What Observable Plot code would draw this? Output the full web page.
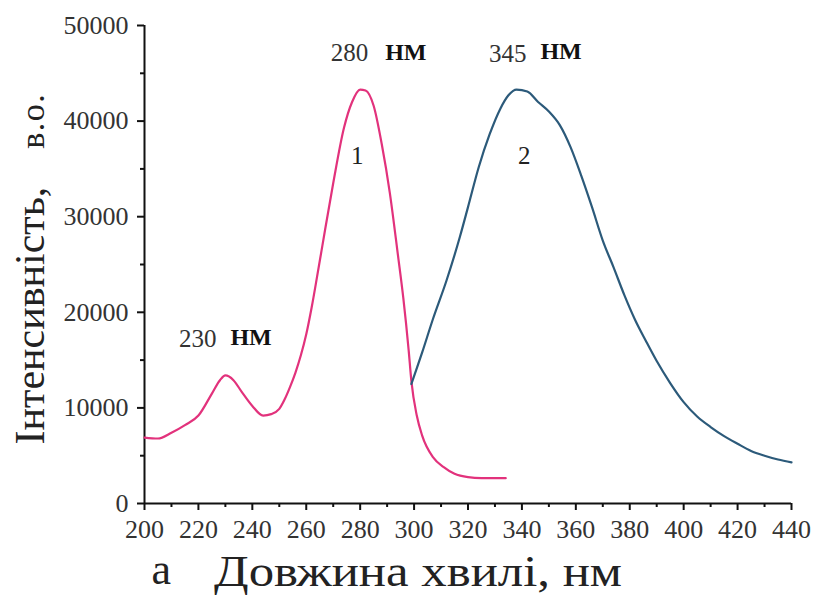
<!DOCTYPE html>
<html>
<head>
<meta charset="utf-8">
<script src="https://cdn.jsdelivr.net/npm/d3@7"></script>
<script src="https://cdn.jsdelivr.net/npm/@observablehq/plot@0.6"></script>
<style>
  html, body { margin: 0; padding: 0; background: #fff; }
  #chart svg { display: block; }
</style>
</head>
<body>
<div id="chart"></div>
<script>
// Curve 1 (excitation)
const wl1 = [200, 205, 210, 215, 220, 225, 228, 230, 233, 236, 240, 244, 247, 250, 252, 254, 256, 258, 260, 262, 264, 266, 270, 274, 277, 280, 282, 285, 288, 291, 294, 296, 298, 299, 301, 303, 307, 311, 315, 320, 325, 330, 334];
const int1 = [6900, 6800, 7400, 8200, 9200, 11500, 12900, 13400, 12900, 11700, 10200, 9200, 9350, 9900, 10900, 12200, 13700, 15500, 17700, 20500, 23700, 27000, 33500, 39300, 42000, 43300, 43200, 41600, 37600, 32500, 26000, 21500, 16000, 12800, 9200, 7100, 4850, 3800, 3100, 2750, 2650, 2650, 2650];
// Curve 2 (emission)
const wl2 = [299, 303, 307, 312, 317, 320, 324, 328, 332, 335, 338, 342, 346, 350, 354, 358, 362, 366, 370, 374, 378, 382, 386, 390, 395, 400, 405, 410, 415, 420, 425, 430, 435, 440];
const int2 = [12500, 15800, 19300, 23300, 27900, 31000, 35200, 38600, 41300, 42700, 43300, 43100, 42000, 41000, 39600, 37300, 34300, 31000, 27500, 24700, 21800, 19200, 17000, 14900, 12600, 10600, 9100, 8000, 7050, 6250, 5500, 5000, 4600, 4300];

const xTicks = [200, 220, 240, 260, 280, 300, 320, 340, 360, 380, 400, 420, 440];
const xMinor = [210, 230, 250, 270, 290, 310, 330, 350, 370, 390, 410, 430];
const yTicks = [0, 10000, 20000, 30000, 40000, 50000];
const yMinor = [5000, 15000, 25000, 35000, 45000];

const peakNm = [230, 280, 345];
const peakVal = [13400, 43300, 43300];
const peakText = ["230", "280", "345"];
const unitText = "НМ";
const curveNames = ["1", "2"];
const curvePeakNm = [280, 342];
const curvePeakVal = [43300, 43300];

const xTitle = "Довжина хвилі, нм";
const yTitleMain = "Інтенсивність,";
const yTitleUnit = "в.о.";
const panelLetter = "а";

const s1 = wl1.map((x, i) => ({x, y: int1[i]}));
const s2 = wl2.map((x, i) => ({x, y: int2[i]}));
const peaks = peakNm.map((x, i) => ({x, y: peakVal[i], t: peakText[i]}));
const curves = curveNames.map((t, i) => ({x: curvePeakNm[i], y: curvePeakVal[i], t}));

const pink = "#e2327c";
const blue = "#2c5a7a";
const font = "Liberation Serif, Times New Roman, serif";

const chart = Plot.plot({
  width: 813,
  height: 597,
  marginLeft: 144,
  marginRight: 22,
  marginTop: 25,
  marginBottom: 94,
  style: {fontFamily: font, background: "#fff", color: "#222"},
  x: {domain: [200, 440]},
  y: {domain: [0, 50000]},
  marks: [
    Plot.axisX({ticks: xTicks, tickSize: 7, tickPadding: 9, fontSize: 26, label: null, stroke: "#111", strokeWidth: 2, fill: "#333"}),
    Plot.axisX({ticks: xMinor, tickSize: 4, text: null, label: null, stroke: "#111", strokeWidth: 2}),
    Plot.axisY({ticks: yTicks, tickSize: 7, tickPadding: 9, fontSize: 26, label: null, tickFormat: d3.format("d"), stroke: "#111", strokeWidth: 2, fill: "#333"}),
    Plot.axisY({ticks: yMinor, tickSize: 4, text: null, label: null, stroke: "#111", strokeWidth: 2}),
    Plot.ruleY([0], {stroke: "#111", strokeWidth: 2}),
    Plot.ruleX([200], {stroke: "#111", strokeWidth: 2}),
    Plot.line(s1, {x: "x", y: "y", stroke: pink, strokeWidth: 2.2, curve: "monotone-x"}),
    Plot.line(s2, {x: "x", y: "y", stroke: blue, strokeWidth: 2.2, curve: "monotone-x"}),
    // peak labels: numbers + unit
    Plot.text(peaks.filter(d => d.t !== "280"), {x: "x", y: "y", text: "t", textAnchor: "end", dx: -9, dy: -36, fontSize: 25, fill: "#333"}),
    Plot.text(peaks.filter(d => d.t !== "280"), {x: "x", y: "y", text: () => unitText, textAnchor: "start", dx: 5, dy: -38, fontSize: 24, fontWeight: "bold", fill: "#111"}),
    Plot.text(peaks.filter(d => d.t === "280"), {x: "x", y: "y", text: "t", textAnchor: "end", dx: 8, dy: -37, fontSize: 25, fill: "#333"}),
    Plot.text(peaks.filter(d => d.t === "280"), {x: "x", y: "y", text: () => unitText, textAnchor: "start", dx: 25, dy: -37, fontSize: 24, fontWeight: "bold", fill: "#111"}),
    // curve labels
    Plot.text(curves, {x: "x", y: "y", text: "t", dx: -3, dy: 66, fontSize: 25, fill: "#222"}),
    // axis titles
    Plot.text([xTitle], {frameAnchor: "bottom", dx: -50, dy: 82, fontSize: 45, fill: "#222", className: "xlab"}),
    Plot.text([panelLetter], {frameAnchor: "bottom-left", dx: 7, dy: 80, fontSize: 44, fill: "#222"}),
    Plot.text([yTitleMain], {frameAnchor: "left", rotate: -90, dx: -114, dy: 4, textAnchor: "middle", fontSize: 42, fill: "#222", className: "ylab"})
  ]
});

document.getElementById("chart").appendChild(chart);

// x title stretched to the reference's width
d3.select(chart).select("g.xlab text").attr("textLength", 408).attr("lengthAdjust", "spacingAndGlyphs");

// Mixed-size y title: main part larger, unit a bit smaller and spaced
const t = d3.select(chart).select("g.ylab text");
if (!t.empty()) {
  t.text(null);
  t.append("tspan").text(yTitleMain);
  t.append("tspan").attr("dx", 38).attr("font-size", 34).attr("letter-spacing", 1.5).text(yTitleUnit);
}
</script>
</body>
</html>
